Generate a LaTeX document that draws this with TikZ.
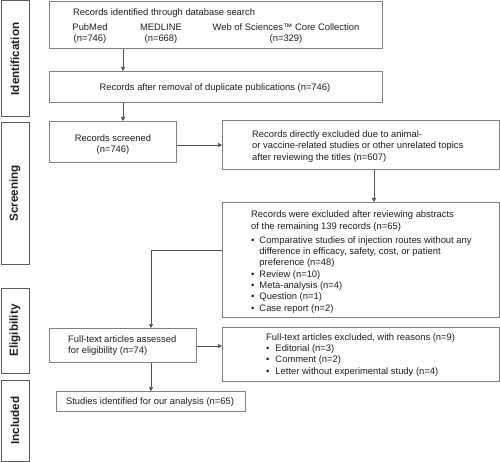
\documentclass[tikz,border=0pt]{standalone}
\usepackage{fontspec}
\setmainfont{Liberation Sans}
\usetikzlibrary{arrows.meta}
\definecolor{boxgray}{HTML}{808080}
\definecolor{sidegray}{HTML}{5A5A5A}
\definecolor{linegray}{HTML}{505050}
\definecolor{txt}{HTML}{1E1E1E}
\newcommand\lefttab[1]{\begin{tabular}[t]{@{}l@{}}#1\end{tabular}}
\newcommand\centtab[1]{\begin{tabular}[t]{@{}c@{}}#1\end{tabular}}
\newcommand\headrow[1]{\multicolumn{2}{@{}l@{}}{#1}}
\begin{document}
\begin{tikzpicture}[x=1pt,y=-1pt,
  font=\fontsize{9.4}{11.3}\selectfont, text=txt,
  box/.style={draw=boxgray,line width=0.9pt,inner sep=0pt,anchor=north west},
  side/.style={draw=sidegray,line width=1pt,inner sep=0pt,rotate=90,font=\fontsize{11.7}{14}\selectfont\bfseries},
  lbl/.style={inner sep=0pt,anchor=base west},
  clbl/.style={inner sep=0pt,anchor=base},
  arr/.style={draw=linegray,line width=0.7pt,-{Triangle[length=4pt,width=4pt]}}]

\useasboundingbox (0,0) rectangle (500,462);

% side phase labels
\node[side,minimum width=116pt,minimum height=28pt] (sid) at (15,59) {Identification};
\node[side,minimum width=141pt,minimum height=28pt] (sscr) at (15,193.5) {Screening};
\node[side,minimum width=85pt,minimum height=28pt] (selig) at (15,330.5) {Eligibility};
\node[side,minimum width=81pt,minimum height=28pt] (sinc) at (15,420.5) {Included};

% boxes
\node[box,minimum width=333pt,minimum height=47pt] (b1) at (49,1) {};
\node[box,minimum width=333pt,minimum height=31pt] (b2) at (49,71) {};
\node[box,minimum width=127pt,minimum height=41pt] (b3) at (49,121) {};
\node[box,minimum width=277pt,minimum height=49pt] (b4) at (222,120) {};
\node[box,minimum width=277pt,minimum height=115pt] (b5) at (222,202) {};
\node[box,minimum width=147pt,minimum height=34pt] (b6) at (49,328) {};
\node[box,minimum width=277pt,minimum height=54pt] (b7) at (222,327) {};
\node[box,minimum width=189pt,minimum height=20pt] (b8) at (56,391) {};

% texts
\node[lbl] (t1) at (73,15.5) {Records identified through database search};
\node[clbl] (t1a) at (90,30.5) {\centtab{PubMed\\(n=746)}};
\node[clbl] (t1b) at (161,30.5) {\centtab{MEDLINE\\(n=668)}};
\node[clbl] (t1c) at (286,30.5) {\centtab{Web of Sciences™ Core Collection\\(n=329)}};
\node[clbl] (t2) at (215,90.5) {Records after removal of duplicate publications (n=746)};
\node[clbl] (t3) at (113,141.5) {\centtab{Records screened\\(n=746)}};
\node[lbl] (t4) at (252,137.5) {\lefttab{Records directly excluded due to animal-\\or vaccine-related studies or other unrelated topics\\after reviewing the titles (n=607)}};
\node[lbl] (t5) at (251,217.8) {\begin{tabular}[t]{@{}l@{\hspace{5pt}}l@{}}
\headrow{Records were excluded after reviewing abstracts}\\
\headrow{of the remaining 139 records (n=65)}\\[3pt]
\textbullet & Comparative studies of injection routes without any\\
 & difference in efficacy, safety, cost, or patient\\
 & preference (n=48)\\
\textbullet & Review (n=10)\\
\textbullet & Meta-analysis (n=4)\\
\textbullet & Question (n=1)\\
\textbullet & Case report (n=2)
\end{tabular}};
\node[lbl] (t6) at (68,342.5) {\lefttab{Full-text articles assessed\\for eligibility (n=74)}};
\node[lbl] (t7) at (266,340.2) {\begin{tabular}[t]{@{}l@{\hspace{6pt}}l@{}}
\headrow{Full-text articles excluded, with reasons (n=9)}\\
\textbullet & Editorial (n=3)\\
\textbullet & Comment (n=2)\\
\textbullet & Letter without experimental study (n=4)
\end{tabular}};
\node[clbl] (t8) at (150,404.5) {Studies identified for our analysis (n=65)};

% connectors
\coordinate (ca) at (123,0);
\coordinate (cb) at (374,0);
\coordinate (ra) at (0,145);
\coordinate (rb) at (0,346);
\coordinate (j) at (151,250);
\draw[arr] (ca |- b1.south) -- (ca |- b2.north);
\draw[arr] (ca |- b2.south) -- (ca |- b3.north);
\draw[arr] (ra -| b3.east) -- (ra -| b4.west);
\draw[arr] (cb |- b4.south) -- (cb |- b5.north);
\draw[arr] (j -| b5.west) -- (j) -- (j |- b6.north);
\draw[arr] (rb -| b6.east) -- (rb -| b7.west);
\draw[arr] (j |- b6.south) -- (j |- b8.north);
\end{tikzpicture}
\end{document}
